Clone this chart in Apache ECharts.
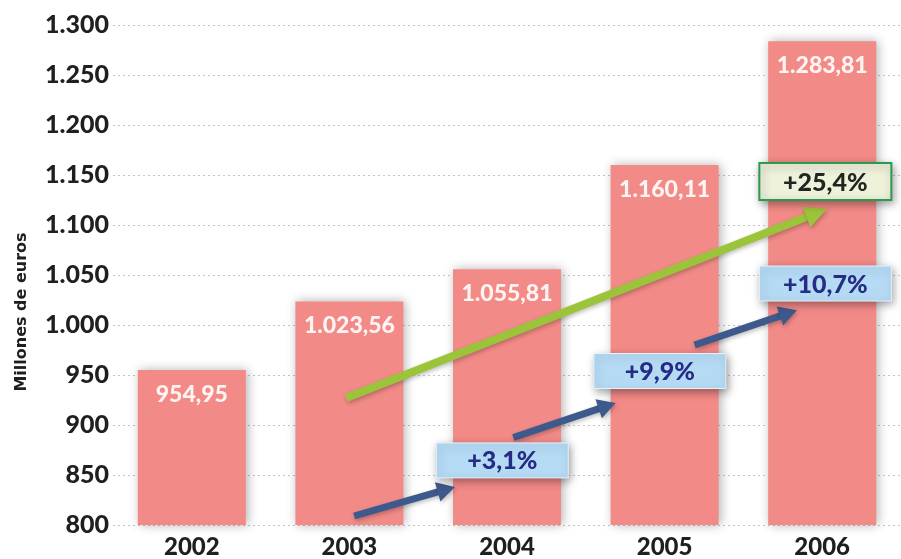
<!DOCTYPE html>
<html>
<head>
<meta charset="utf-8">
<title>Millones de euros 2002-2006</title>
<script src="https://cdn.jsdelivr.net/npm/echarts@6/dist/echarts.min.js"></script>
<style>
  html, body { margin: 0; padding: 0; background: #ffffff; }
  #chart { width: 901px; height: 559px; }
</style>
</head>
<body>
<div id="chart"></div>
<script>
// Years and yearly totals (millones de euros)
const years = ['2002', '2003', '2004', '2005', '2006'];
const totals = [954.95, 1023.56, 1055.81, 1160.11, 1283.81];

// Value-axis ticks
const yMin = 800;
const yMax = 1300;
const yStep = 50;
const yTitle = 'Millones de euros';

// Year-on-year growth callouts: [x (category position), y (value), text]
const yearlyGrowth = [
  [1.97, 864.6, '+3,1%'],
  [2.97, 954, '+9,9%'],
  [4.02, 1041.5, '+10,7%']
];
const totalGrowth = [[4.02, 1143.4, '+25,4%']];

// Arrows: [x0, y0, x1, y1] in category position / value units
const yearlyArrows = [
  [1.03, 809, 1.67, 838],
  [2.04, 887.5, 2.69, 922],
  [3.19, 980, 3.84, 1014.7]
];
const totalArrow = [[0.98, 927, 4.03, 1116]];

// Spanish number formatting: 1283.81 -> "1.283,81"
function fmtEs(v, decimals) {
  const parts = v.toFixed(decimals).split('.');
  const intPart = parts[0].replace(/\B(?=(\d{3})+(?!\d))/g, '.');
  return parts.length > 1 ? intPart + ',' + parts[1] : intPart;
}

const FONT = 'Lato';

function arrowRenderer(color, width, headLen, headWidth) {
  return function (params, api) {
    const p0 = api.coord([api.value(0), api.value(1)]);
    const p1 = api.coord([api.value(2), api.value(3)]);
    const dx = p1[0] - p0[0], dy = p1[1] - p0[1];
    const len = Math.sqrt(dx * dx + dy * dy);
    const ux = dx / len, uy = dy / len;
    const bx = p1[0] - ux * headLen, by = p1[1] - uy * headLen;
    const nx = -uy, ny = ux;
    const shadow = { shadowBlur: 4, shadowColor: 'rgba(0,0,0,0.25)', shadowOffsetX: 1, shadowOffsetY: 2 };
    return {
      type: 'group',
      children: [
        {
          type: 'line',
          shape: { x1: p0[0], y1: p0[1], x2: bx + ux * 2, y2: by + uy * 2 },
          style: Object.assign({ stroke: color, lineWidth: width }, shadow)
        },
        {
          type: 'polygon',
          shape: {
            points: [
              [p1[0], p1[1]],
              [bx + nx * headWidth / 2, by + ny * headWidth / 2],
              [bx - nx * headWidth / 2, by - ny * headWidth / 2]
            ]
          },
          style: Object.assign({ fill: color }, shadow)
        }
      ]
    };
  };
}

function boxRenderer(items, w, h, fill, stroke, strokeWidth, textColor) {
  return function (params, api) {
    const c = api.coord([api.value(0), api.value(1)]);
    const text = items[params.dataIndex][2];
    return {
      type: 'group',
      children: [
        {
          type: 'rect',
          shape: { x: c[0] - w / 2, y: c[1] - h / 2, width: w, height: h },
          style: {
            fill: fill, stroke: stroke, lineWidth: strokeWidth,
            shadowBlur: 8, shadowColor: 'rgba(0,0,0,0.35)', shadowOffsetX: 2, shadowOffsetY: 3
          }
        },
        {
          type: 'text',
          x: c[0], y: c[1] + 1,
          style: {
            text: text, fill: textColor,
            font: '900 25px ' + FONT,
            align: 'center', verticalAlign: 'middle'
          }
        }
      ]
    };
  };
}

const chart = echarts.init(document.getElementById('chart'), null, { renderer: 'canvas' });

chart.setOption({
  backgroundColor: '#ffffff',
  animation: false,
  grid: { left: 113, top: 25, width: 792, bottom: 31, containLabel: false },
  graphic: [
    {
      type: 'text',
      x: 22, y: 312,
      rotation: Math.PI / 2,
      style: {
        text: yTitle, fill: '#1f1f1f',
        font: 'bold 16px "DejaVu Sans"',
        align: 'center', verticalAlign: 'middle'
      }
    }
  ],
  xAxis: [
    {
      type: 'category',
      data: years,
      axisLine: { show: false },
      axisTick: { show: false },
      axisLabel: {
        color: '#1f1f1f', fontFamily: FONT, fontWeight: 900, fontSize: 24, margin: 10
      }
    },
    {
      type: 'value',
      min: -0.5, max: 4.5,
      show: false
    }
  ],
  yAxis: {
    type: 'value',
    min: yMin, max: yMax, interval: yStep,
    axisLine: { show: false },
    axisTick: { show: false },
    axisLabel: {
      color: '#1f1f1f', fontFamily: FONT, fontWeight: 900, fontSize: 25, margin: 4,
      formatter: v => fmtEs(v, 0)
    },
    splitLine: { lineStyle: { color: '#c4c4c4', type: [2, 3], width: 1 } }
  },
  series: [
    {
      type: 'bar',
      data: totals,
      barWidth: 108,
      itemStyle: {
        color: '#f28a87',
        shadowBlur: 10, shadowColor: 'rgba(0,0,0,0.3)', shadowOffsetX: 2, shadowOffsetY: 0
      },
      label: {
        show: true,
        position: 'insideTop',
        distance: 13,
        color: '#fff4f2',
        fontFamily: FONT, fontWeight: 900, fontSize: 23,
        formatter: p => fmtEs(p.value, 2)
      },
      z: 2
    },
    {
      type: 'custom',
      xAxisIndex: 1,
      renderItem: arrowRenderer('#9cc43a', 8, 22, 22),
      data: totalArrow,
      silent: true,
      z: 5
    },
    {
      type: 'custom',
      xAxisIndex: 1,
      renderItem: arrowRenderer('#3e5a8c', 7, 18, 20),
      data: yearlyArrows,
      silent: true,
      z: 5
    },
    {
      type: 'custom',
      xAxisIndex: 1,
      renderItem: boxRenderer(yearlyGrowth, 132, 35, '#b5daf4', '#e4f1fb', 1, '#262c86'),
      data: yearlyGrowth.map(d => [d[0], d[1]]),
      silent: true,
      z: 6
    },
    {
      type: 'custom',
      xAxisIndex: 1,
      renderItem: boxRenderer(totalGrowth, 132, 37, '#eef2db', '#2b9a4c', 2, '#1e261f'),
      data: totalGrowth.map(d => [d[0], d[1]]),
      silent: true,
      z: 6
    }
  ]
});
</script>
</body>
</html>
